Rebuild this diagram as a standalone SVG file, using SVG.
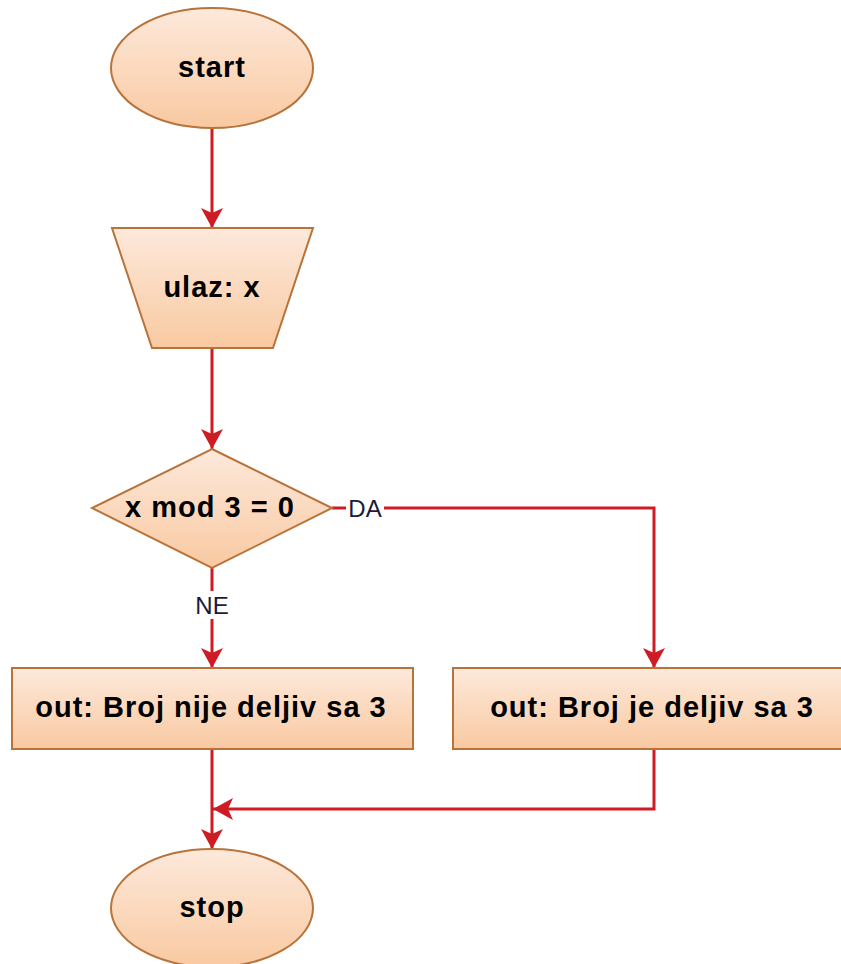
<svg xmlns="http://www.w3.org/2000/svg" width="841" height="964" viewBox="0 0 841 964">
<defs>
<linearGradient id="g" x1="0" y1="0" x2="0" y2="1">
<stop offset="0" stop-color="#fde9db"/>
<stop offset="1" stop-color="#f9c9a1"/>
</linearGradient>
<marker id="ah" viewBox="0 0 20 22" refX="20" refY="11" markerWidth="20" markerHeight="22" markerUnits="userSpaceOnUse" orient="auto">
<path d="M0,0 L20,11 L0,22 L5,11 Z" fill="#cf1b24"/>
</marker>
<style>
.n{fill:url(#g);stroke:#b8733a;stroke-width:2}
.t{font-family:"Liberation Sans",Arial,sans-serif;font-weight:bold;font-size:29px;letter-spacing:1px;fill:#000;text-anchor:middle;dominant-baseline:central}
.c{fill:none;stroke:#cf1b24;stroke-width:3}
.l{font-family:"Liberation Sans",Arial,sans-serif;font-size:24px;fill:#1a1a3a;text-anchor:middle;dominant-baseline:central}
</style>
</defs>
<rect width="841" height="964" fill="#fff"/>
<g id="connectors">
<path class="c" d="M212,128 L212,228" marker-end="url(#ah)"/>
<path class="c" d="M212,348 L212,449" marker-end="url(#ah)"/>
<path class="c" d="M212,568 L212,668" marker-end="url(#ah)"/>
<path class="c" d="M332,508 L654,508 L654,668" marker-end="url(#ah)"/>
<path class="c" d="M654,749 L654,809 L213,809" marker-end="url(#ah)"/>
<path class="c" d="M212,749 L212,849" marker-end="url(#ah)"/>
<rect x="346" y="494" width="38" height="28" fill="#fff"/>
<text class="l" x="365" y="508">DA</text>
<rect x="194" y="591" width="36" height="28" fill="#fff"/>
<text class="l" x="212" y="605">NE</text>
</g>
<g id="start">
<ellipse class="n" cx="212" cy="68" rx="101" ry="60"/>
<text class="t" x="212" y="67">start</text>
</g>
<g id="input">
<polygon class="n" points="112,228 313,228 273,348 152,348"/>
<text class="t" x="212" y="287">ulaz: x</text>
</g>
<g id="decision">
<polygon class="n" points="212,449 332,508 212,568 92,508"/>
<text class="t" x="210" y="507">x mod 3 = 0</text>
</g>
<g id="out_ne">
<rect class="n" x="12" y="668" width="401" height="81"/>
<text class="t" x="211" y="707">out: Broj nije deljiv sa 3</text>
</g>
<g id="out_da">
<rect class="n" x="453" y="668" width="400" height="81"/>
<text class="t" x="652" y="707">out: Broj je deljiv sa 3</text>
</g>
<g id="stop">
<ellipse class="n" cx="212" cy="908" rx="101" ry="59"/>
<text class="t" x="212" y="907">stop</text>
</g>
</svg>
